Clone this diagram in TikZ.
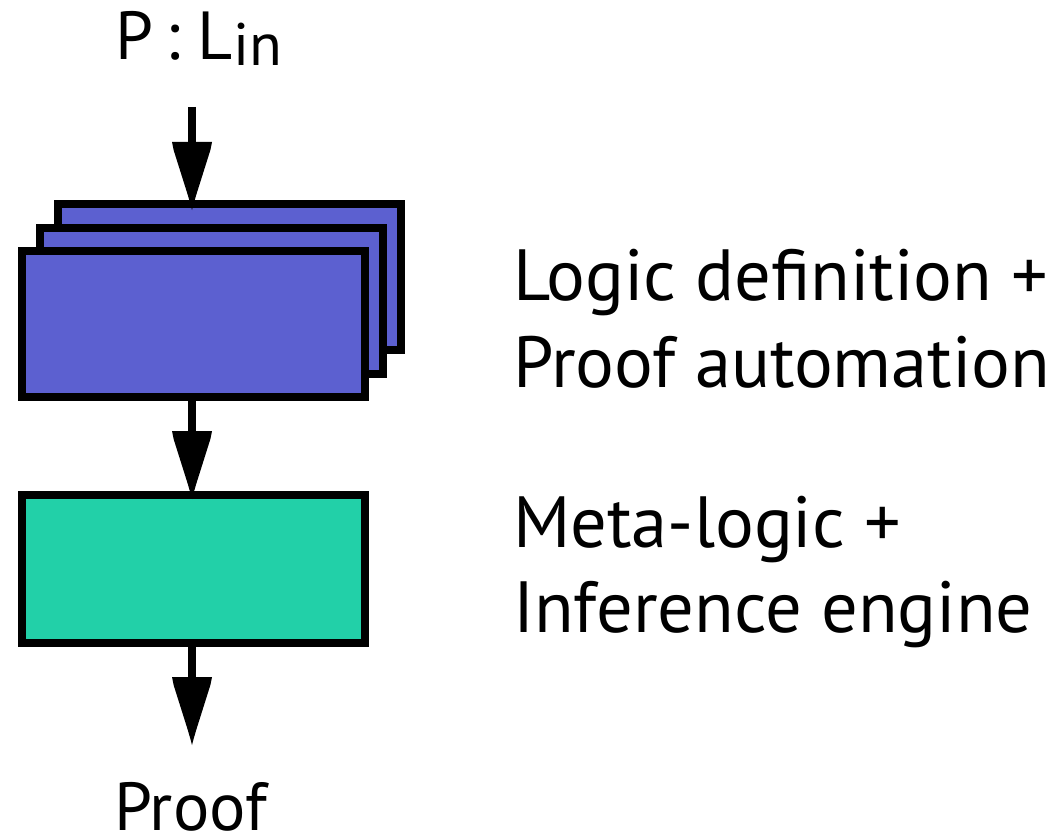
\documentclass[tikz,border=0pt]{standalone}
\usepackage{fontspec}
\setmainfont{PT Sans}

% Long, slightly needle-like arrow head with fixed size
\pgfdeclarearrow{
  name = Needle,
  setup code = {
    \pgfarrowssettipend{0pt}
    \pgfarrowssetlineend{-40pt}
    \pgfarrowssetbackend{-68pt}
    \pgfarrowssetvisualbackend{-68pt}
    \pgfarrowshullpoint{0pt}{0pt}
    \pgfarrowshullpoint{-68pt}{20pt}
    \pgfarrowshullpoint{-68pt}{-20pt}
  },
  drawing code = {
    \pgfpathmoveto{\pgfpoint{0pt}{0pt}}
    \pgfpathcurveto{\pgfpoint{-5pt}{1.2pt}}{\pgfpoint{-10pt}{2.8pt}}{\pgfpoint{-15pt}{4.2pt}}
    \pgfpathlineto{\pgfpoint{-60pt}{18.4pt}}
    \pgfpathlineto{\pgfpoint{-68pt}{20pt}}
    \pgfpathlineto{\pgfpoint{-68pt}{-20pt}}
    \pgfpathlineto{\pgfpoint{-60pt}{-18.4pt}}
    \pgfpathlineto{\pgfpoint{-15pt}{-4.2pt}}
    \pgfpathcurveto{\pgfpoint{-10pt}{-2.8pt}}{\pgfpoint{-5pt}{-1.2pt}}{\pgfpoint{0pt}{0pt}}
    \pgfpathclose
    \pgfusepathqfill
  }
}

\definecolor{logicblue}{RGB}{92,96,208}
\definecolor{metagreen}{RGB}{34,208,168}

\begin{document}
\begin{tikzpicture}[x=1pt,y=-1pt,
  layer/.style={draw=black, line width=8pt, fill=logicblue,
    minimum width=343pt, minimum height=146pt, inner sep=0pt},
  engine/.style={layer, fill=metagreen, minimum height=148pt},
  flow/.style={line width=8pt, -{Needle}},
  caption/.style={font=\fontsize{72.5}{86}\selectfont, anchor=base west, inner sep=0pt},
  io/.style={font=\fontsize{68}{80}\selectfont, anchor=base west, inner sep=0pt}]
  \useasboundingbox (0,0) rectangle (1055,840);

  % stacked logic definitions, back to front
  \node[layer] (back)  at (229.5,277) {};
  \node[layer] (mid)   at (211.5,300.5) {};
  \node[layer] (front) at (193.5,324) {};
  % meta-logic engine
  \node[engine] (meta) at (193.5,569) {};

  % input and output
  \node[io] (input) at (115,60) {P\hspace{0.18em}:\hspace{0.26em}L\raisebox{-6pt}{\fontsize{60}{70}\selectfont in}};
  \coordinate (inpt) at (192,107);
  \coordinate (outpt) at (192,745);
  \node[io] (proof) at (114,830) {Proof};

  % data flow
  \draw[flow, shorten >=-10pt] (inpt) -- (inpt |- back.north);
  \draw[flow, shorten >=-8pt] (inpt |- front.south) -- (inpt |- meta.north);
  \draw[flow] (inpt |- meta.south) -- (outpt);

  % layer descriptions
  \node[caption] (logic1) at (513,300) {Logic definition +};
  \node[caption] (logic2) at (513,387) {Proof automation};
  \node[caption] (meta1) at (513,547) {Meta-logic +};
  \node[caption] (meta2) at (513,632) {Inference engine};
\end{tikzpicture}
\end{document}
